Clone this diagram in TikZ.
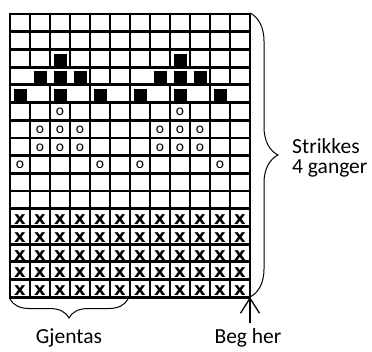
\documentclass[tikz,border=0pt]{standalone}
\usepackage{fontspec}
\setmainfont{Carlito}
\newfontfamily\crossfont{DejaVu Sans}
\usetikzlibrary{arrows.meta,decorations.pathreplacing,positioning}

\begin{document}
\begin{tikzpicture}[x=1pt,y=-1pt,
  gridline/.style={line width=2.8pt,line cap=rect},
  purl/.style={anchor=base,inner sep=0pt,font=\fontsize{15.5}{15.5}\selectfont},
  cross/.style={anchor=base,inner sep=0pt,font=\crossfont\bfseries\fontsize{18}{18}\selectfont},
  lbl/.style={inner sep=0pt,font=\fontsize{21.5}{21.5}\selectfont},
  brc/.style={decorate,line width=1pt}]
  \useasboundingbox (0,0) rectangle (372,351);
  \def\rh{17.7}
  % grid
  \foreach \r in {0,...,16}
    \draw[gridline] (10,14+\r*\rh) -- (250,14+\r*\rh);
  \draw[gridline] (10,14) -- (10,14+16*\rh);
  \draw[gridline] (250,14) -- (250,14+16*\rh);
  \foreach \k in {1,...,11} {
    \draw[gridline] (10+20*\k,14) -- (10+20*\k,14+3*\rh);
    \draw[gridline] (10+20*\k,14+5*\rh) -- (10+20*\k,14+16*\rh);
  }
  \foreach \k in {4,5,6,10,11}
    \draw[gridline] (10+20*\k,14+3*\rh) -- (10+20*\k,14+4*\rh);
  \foreach \k in {2,4,6,8,10}
    \draw[gridline] (10+20*\k,14+4*\rh) -- (10+20*\k,14+5*\rh);
  % black stitches
  \foreach \r/\cols in {3/{3,9},4/{2,3,4,8,9,10},5/{1,3,5,7,9,11}}
    \foreach \c in \cols
      \fill (20*\c-6.5,14+\r*\rh-1.4) rectangle ++(13,-12);
  % purl stitches
  \foreach \r/\cols in {6/{3,9},7/{2,3,4,8,9,10},8/{2,3,4,8,9,10},9/{1,5,7,11}}
    \foreach \c in \cols
      \node[purl] (o-\r-\c) at (20*\c,14+\r*\rh-4.5) {o};
  % crossed stitches
  \foreach \r in {12,...,16}
    \foreach \c in {1,...,12}
      \node[cross] (x-\r-\c) at (20*\c,14+\r*\rh-1.8) {x};
  % braces
  \coordinate (topR) at (250,13);
  \coordinate (botR) at (250,297);
  \draw[brc,decoration={brace,amplitude=28pt}] (topR) -- (botR);
  \coordinate (repR) at (128,299);
  \coordinate (repL) at (10,299);
  \draw[brc,decoration={brace,amplitude=19pt}] (repR) -- (repL);
  % labels
  \node[lbl,anchor=base west] (strikkes) at (292,153) {Strikkes};
  \node[lbl,anchor=base west] (ganger) at ([yshift=-20pt]strikkes.base west) {4 ganger};
  \node[lbl,anchor=base] (gjentas) at (69,343) {Gjentas};
  \node[lbl,anchor=base] (beg) at (248,343) {Beg her};
  \coordinate (start) at (250,297);
  \draw[-{Straight Barb[length=15pt,width=19pt]},line width=1.3pt]
    (start |- beg.north) ++(0,-5) -- (start);
\end{tikzpicture}
\end{document}
